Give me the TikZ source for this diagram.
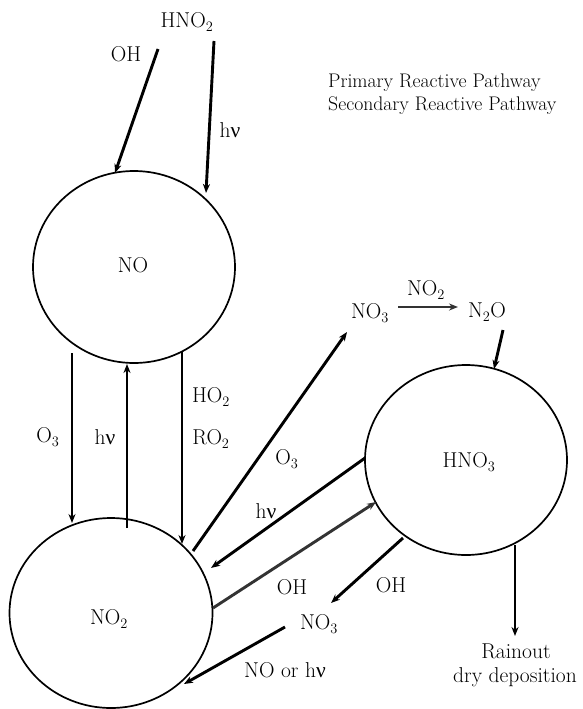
\documentclass[tikz,border=0pt]{standalone}
\usepackage{fontspec}
\newfontfamily\grkfont{Liberation Serif}
\newcommand{\hnu}{h{\grkfont ν}}
\usetikzlibrary{shapes.geometric,arrows.meta,calc}
\begin{document}
\begin{tikzpicture}[x=1pt,y=-1pt,
  lbl/.style={font=\fontsize{21.5}{24}\selectfont, inner sep=0pt},
  leg/.style={font=\fontsize{19.7}{23}\selectfont, inner sep=0pt, anchor=base west},
  blob/.style={draw, ellipse, line width=1.7pt, inner sep=0pt},
  arr/.style={line width=2.9pt, -{Stealth[length=9pt,width=7pt]}},
  sec/.style={arr, draw=black!80}
]
\useasboundingbox (0,0) rectangle (583,709);

% reservoirs
\node[blob, minimum width=202pt, minimum height=192pt] (NO) at (134,267) {};
\node[blob, minimum width=203pt, minimum height=190pt] (NOtwo) at (111,613) {};
\node[blob, minimum width=202pt, minimum height=190pt] (HNOthree) at (466,460) {};
\node[lbl] (NOt) at (133,265) {NO};
\node[lbl] (NOtwot) at (109,619) {NO$_2$};
\node[lbl] (HNOthreet) at (469,462) {HNO$_3$};

% legend
\node[leg] (leg1) at (328,88) {Primary Reactive Pathway};
\node[leg] (leg2) at (328,110) {Secondary Reactive Pathway};

% labels
\node[lbl] (HNOtwo) at (187,22) {HNO$_2$};
\node[lbl] (OHa) at (126,54) {OH};
\node[lbl] (hva) at (230,130) {\hnu};
\node[lbl] (Othreea) at (48,437) {O$_3$};
\node[lbl] (hvb) at (105,437) {\hnu};
\node[lbl] (HOtwo) at (211,397) {HO$_2$};
\node[lbl] (ROtwo) at (211,439) {RO$_2$};
\node[lbl] (NOthreea) at (370,313) {NO$_3$};
\node[lbl] (NOtwob) at (426,290) {NO$_2$};
\node[lbl] (NtwoO) at (487,312) {N$_2$O};
\node[lbl] (Othreeb) at (287,459) {O$_3$};
\node[lbl] (hvc) at (266,511) {\hnu};
\node[lbl] (OHb) at (292,587) {OH};
\node[lbl] (OHc) at (391,585) {OH};
\node[lbl] (NOthreeb) at (319,624) {NO$_3$};
\node[lbl] (NOorhv) at (285,670) {NO or \hnu};
\node[lbl, anchor=base] (rain) at (516,658) {Rainout};
\node[lbl, anchor=base] (dry) at (515,682) {dry deposition};

% connector end points
\coordinate (a1s) at (158,49);  \coordinate (a1e) at (115,173);
\coordinate (a2s) at (214,41);  \coordinate (a2e) at (206,193);
\coordinate (a3s) at (72,353);  \coordinate (a3e) at (72,523);
\coordinate (a4s) at (127,528); \coordinate (a4e) at (127,364);
\coordinate (a5s) at (182,352); \coordinate (a5e) at (182,544);
\coordinate (a6s) at (193,551); \coordinate (a6e) at (347,332);
\coordinate (a7s) at (398,307); \coordinate (a7e) at (458,307);
\coordinate (a8s) at (503,330); \coordinate (a8e) at (494,369);
\coordinate (a9s) at (365,458); \coordinate (a9e) at (211,568);
\coordinate (a10s) at (213,608); \coordinate (a10e) at (376,502);
\coordinate (a11s) at (403,538); \coordinate (a11e) at (331,603);
\coordinate (a12s) at (285,627); \coordinate (a12e) at (184,684);
\coordinate (a13s) at (515,545); \coordinate (a13e) at (515,636);

\draw[arr] (a1s) -- (a1e);
\draw[arr] (a2s) -- (a2e);
\draw[arr] (a3s) -- (a3e);
\draw[arr] (a4s) -- (a4e);
\draw[arr] (a5s) -- (a5e);
\draw[arr] (a6s) -- (a6e);
\draw[sec] (a7s) -- (a7e);
\draw[arr] (a8s) -- (a8e);
\draw[arr] (a9s) -- (a9e);
\draw[sec] (a10s) -- (a10e);
\draw[arr] (a11s) -- (a11e);
\draw[arr] (a12s) -- (a12e);
\draw[arr] (a13s) -- (a13e);
\end{tikzpicture}
\end{document}
